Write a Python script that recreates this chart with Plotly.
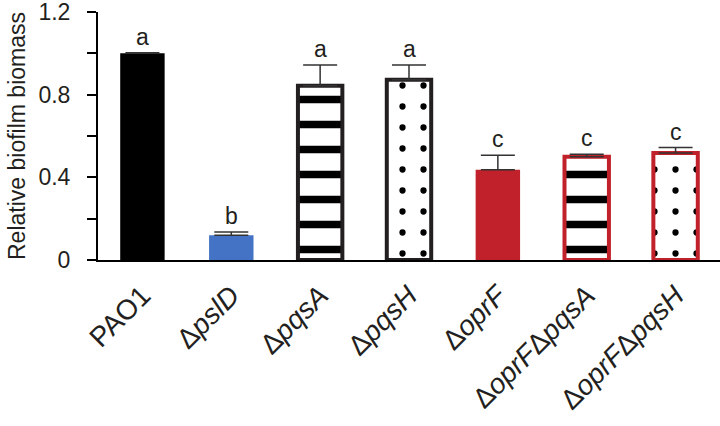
import plotly.graph_objects as go

# ---- data ----
strains = ["PAO1", "Δ<i>pslD</i>", "Δ<i>pqsA</i>", "Δ<i>pqsH</i>",
           "Δ<i>oprF</i>", "Δ<i>oprF</i>Δ<i>pqsA</i>", "Δ<i>oprF</i>Δ<i>pqsH</i>"]
biomass = [1.00, 0.12, 0.843, 0.872, 0.437, 0.500, 0.518]
err_plus = [0.003, 0.015, 0.100, 0.072, 0.070, 0.012, 0.026]
letters = ["a", "b", "a", "a", "c", "c", "c"]
y_range = [0, 1.2]
y_label_step = 0.4
y_minor_step = 0.2

# ---- styles ----
BLACK = "#000000"
BLUE = "#4472c4"
RED = "#c1212a"
DARK = "#231f20"
FONT = "Liberation Sans, Arial"
fill_colors = [BLACK, BLUE, "white", "white", RED, "white", "white"]
line_colors = [BLACK, BLUE, DARK, DARK, RED, RED, RED]
line_widths = [0, 0, 4, 4, 0, 4, 4]
pat_shapes = ["", "", "-", ".", "", "-", "."]
pat_sizes = [10, 10, 25, 21, 10, 25, 21]
pat_solid = [0.3, 0.3, 0.3, 0.07, 0.3, 0.3, 0.07]

x_idx = list(range(len(strains)))

fig = go.Figure()
for i in x_idx:
    marker = dict(color=fill_colors[i],
                  line=dict(color=line_colors[i], width=line_widths[i]))
    if pat_shapes[i]:
        marker["pattern"] = dict(shape=pat_shapes[i], size=pat_sizes[i],
                                 solidity=pat_solid[i], fgcolor="black",
                                 fgopacity=1, bgcolor="white",
                                 fillmode="overlay")
    fig.add_trace(go.Bar(
        x=[x_idx[i]], y=[biomass[i]], width=0.5, marker=marker,
        error_y=dict(type="data", symmetric=False, array=[err_plus[i]],
                     arrayminus=[0], color="#333333", thickness=1.5, width=17),
        showlegend=False, hoverinfo="skip",
    ))

for i, (v, e, t) in enumerate(zip(biomass, err_plus, letters)):
    fig.add_annotation(x=i, y=v + e, text=t, showarrow=False,
                       yanchor="bottom", yshift=1,
                       font=dict(family=FONT, size=23, color=DARK))

fig.update_layout(
    width=720, height=426,
    margin=dict(l=98, r=0, t=12, b=166),
    plot_bgcolor="white", paper_bgcolor="white",
    font=dict(family=FONT, color=DARK),
    barmode="overlay",
)
fig.update_xaxes(
    range=[-0.5, 6.5], tickvals=x_idx, ticktext=strains, tickangle=-45,
    showline=True, linecolor=BLACK, linewidth=2, ticks="",
    ticklabelstandoff=6,
    showgrid=False, zeroline=False, automargin=False,
    tickfont=dict(size=28, color=DARK, family=FONT),
)
fig.update_yaxes(
    range=y_range, tickmode="linear", tick0=0, dtick=y_label_step,
    showline=True, linecolor=BLACK, linewidth=2, ticks="outside",
    ticklen=9, tickwidth=2, tickcolor=BLACK, ticklabelstandoff=12,
    ticklabeloverflow="allow",
    minor=dict(ticks="outside", dtick=y_minor_step, ticklen=9, tickwidth=2,
               tickcolor=BLACK, showgrid=False),
    showgrid=False, zeroline=False, automargin=False,
    tickfont=dict(size=23, color=DARK, family=FONT),
    title=dict(text="Relative biofilm biomass", standoff=6,
               font=dict(size=23, color=DARK, family=FONT)),
)

fig.write_html("out.html", config={"displayModeBar": False},
               post_script="document.body.style.margin='0';")
